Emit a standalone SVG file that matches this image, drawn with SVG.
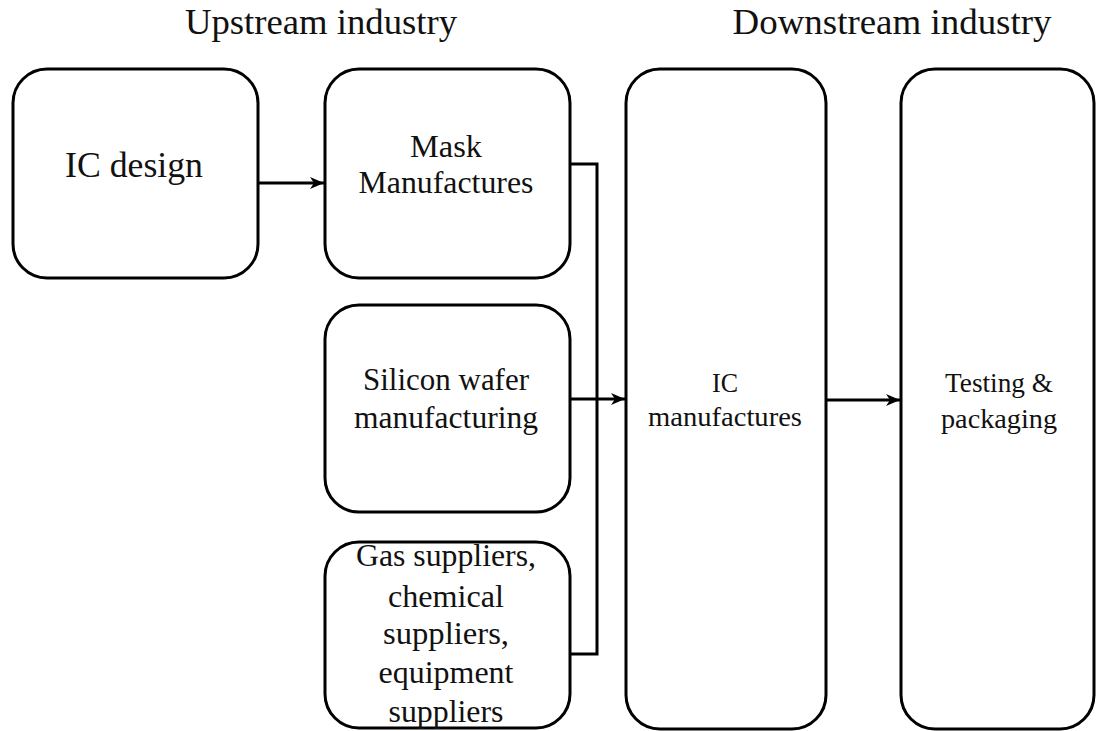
<svg xmlns="http://www.w3.org/2000/svg" width="1096" height="731" viewBox="0 0 1096 731">
  <defs>
    <marker id="arrow" viewBox="0 0 14 12" refX="14" refY="6" markerWidth="14" markerHeight="12" markerUnits="userSpaceOnUse" orient="auto">
      <path d="M0,0 L14,6 L0,12 L4,6 Z" fill="#000"/>
    </marker>
  </defs>
  <style>
    .box { fill: #fff; stroke: #000; stroke-width: 3; }
    .line { fill: none; stroke: #000; stroke-width: 3; }
    text { font-family: "Liberation Serif", "DejaVu Serif", serif; fill: #111; text-anchor: middle; }
  </style>
  <rect width="1096" height="731" fill="#fff"/>

  <g id="headings">
    <text x="321" y="34" font-size="35" textLength="272" lengthAdjust="spacingAndGlyphs">Upstream industry</text>
    <text x="892" y="34" font-size="35" textLength="319" lengthAdjust="spacingAndGlyphs">Downstream industry</text>
  </g>

  <!-- flow lines: design -> mask, supplier bracket -> fab, fab -> test -->
  <g id="connectors">
    <line class="line" x1="258" y1="183" x2="324" y2="183" marker-end="url(#arrow)"/>
    <polyline class="line" points="570,164 597,164 597,654 570,654"/>
    <line class="line" x1="570" y1="399" x2="625" y2="399" marker-end="url(#arrow)"/>
    <line class="line" x1="826" y1="400" x2="900" y2="400" marker-end="url(#arrow)"/>
  </g>

  <g id="ic-design">
    <rect class="box" x="13" y="69" width="245" height="209" rx="34"/>
    <text x="134" y="177" font-size="36" textLength="138" lengthAdjust="spacingAndGlyphs">IC design</text>
  </g>

  <g id="mask">
    <rect class="box" x="325" y="69" width="245" height="209" rx="34"/>
    <text x="446" y="157" font-size="31" textLength="72" lengthAdjust="spacingAndGlyphs">Mask</text>
    <text x="446" y="193" font-size="31" textLength="175" lengthAdjust="spacingAndGlyphs">Manufactures</text>
  </g>

  <g id="silicon">
    <rect class="box" x="325" y="305" width="245" height="207" rx="34"/>
    <text x="446" y="390" font-size="31" textLength="166" lengthAdjust="spacingAndGlyphs">Silicon wafer</text>
    <text x="446" y="428" font-size="31" textLength="184" lengthAdjust="spacingAndGlyphs">manufacturing</text>
  </g>

  <g id="suppliers">
    <rect class="box" x="325" y="542" width="245" height="186" rx="34"/>
    <text x="446" y="566" font-size="31" textLength="180" lengthAdjust="spacingAndGlyphs">Gas suppliers,</text>
    <text x="446" y="607" font-size="31" textLength="116" lengthAdjust="spacingAndGlyphs">chemical</text>
    <text x="446" y="644" font-size="31" textLength="126" lengthAdjust="spacingAndGlyphs">suppliers,</text>
    <text x="446" y="683" font-size="31" textLength="135" lengthAdjust="spacingAndGlyphs">equipment</text>
    <text x="446" y="722" font-size="31" textLength="115" lengthAdjust="spacingAndGlyphs">suppliers</text>
  </g>

  <g id="ic-manufactures">
    <rect class="box" x="626" y="69" width="200" height="660" rx="34"/>
    <text x="725" y="392" font-size="28" textLength="26" lengthAdjust="spacingAndGlyphs">IC</text>
    <text x="725" y="426" font-size="28" textLength="154" lengthAdjust="spacingAndGlyphs">manufactures</text>
  </g>

  <g id="testing">
    <rect class="box" x="901" y="69" width="193" height="660" rx="34"/>
    <text x="999" y="392" font-size="28" textLength="108" lengthAdjust="spacingAndGlyphs">Testing &amp;</text>
    <text x="999" y="428" font-size="28" textLength="116" lengthAdjust="spacingAndGlyphs">packaging</text>
  </g>
</svg>
